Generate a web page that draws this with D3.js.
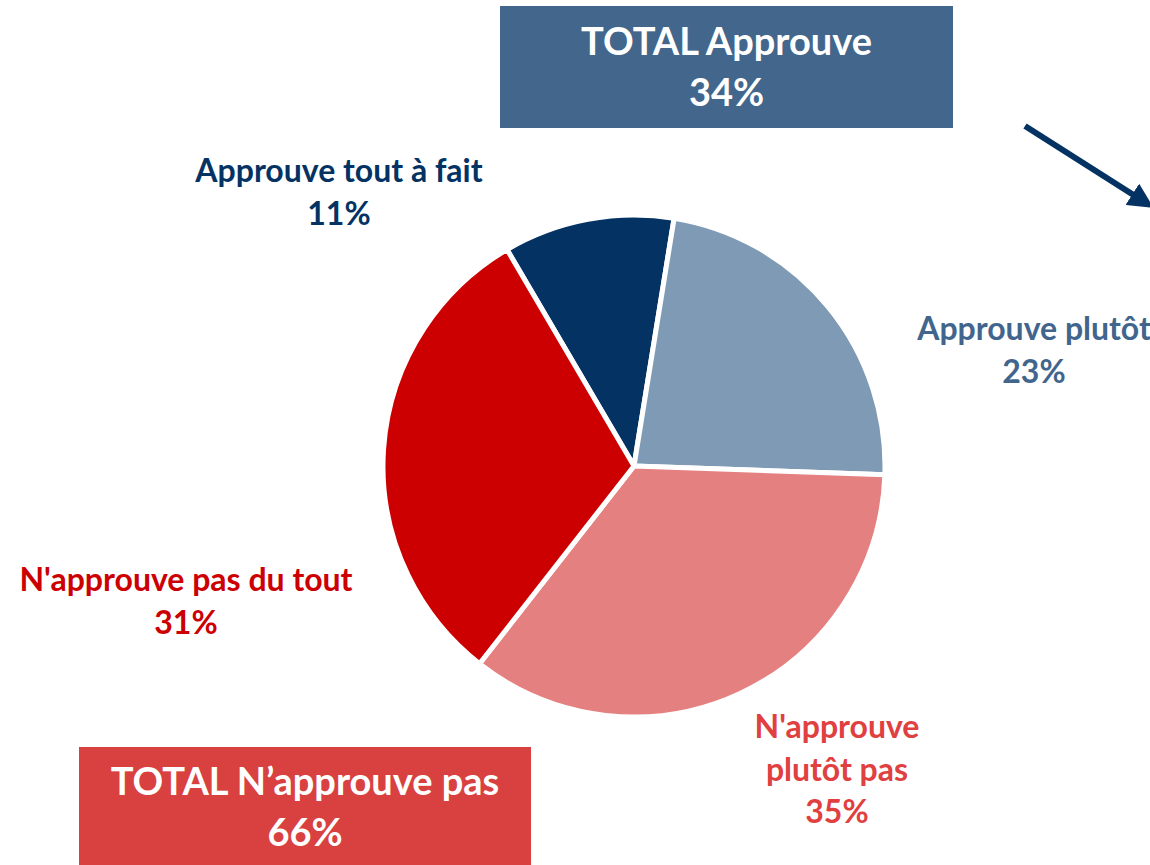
<!DOCTYPE html>
<html>
<head>
<meta charset="utf-8">
<script src="https://cdn.jsdelivr.net/npm/d3@7"></script>
<style>
  html, body { margin: 0; padding: 0; background: #fff; overflow: hidden; }
  text { font-family: Lato, "Open Sans", sans-serif; font-weight: bold; }
</style>
</head>
<body>
<svg id="chart" width="1150" height="865"></svg>
<script>
// slice order, clockwise, starting with "tout à fait"
const categories = ['Approuve tout à fait', 'Approuve plutôt', "N'approuve plutôt pas", "N'approuve pas du tout"];
const values = [11, 23, 35, 31];
const sliceColors = ['#043363', '#7f9ab4', '#e4807f', '#cc0000'];
const labelColors = ['#043363', '#41658c', '#e0403f', '#cc0000'];
const totals = [
  {label: 'TOTAL Approuve', value: 34},
  {label: 'TOTAL N\u2019approuve pas', value: 66}
];

const svg = d3.select('#chart');
const cx = 634, cy = 466, radius = 251;

const pie = d3.pie()
  .sort(null)
  .value(d => d)
  .startAngle(-30.4 * Math.PI / 180)
  .endAngle(329.6 * Math.PI / 180);

const arc = d3.arc().innerRadius(0).outerRadius(radius);

const g = svg.append('g').attr('transform', `translate(${cx},${cy})`);

g.selectAll('path')
  .data(pie(values))
  .enter()
  .append('path')
  .attr('d', arc)
  .attr('fill', (d, i) => sliceColors[i])
  .attr('stroke', '#fff')
  .attr('stroke-width', 5)
  .attr('stroke-linejoin', 'round');

/* slice labels - placed by hand like the original */
const labelPos = [
  {x: 339, y: 174, lines: ['Approuve tout à fait']},
  {x: 1034, y: 332, lines: ['Approuve plutôt']},
  {x: 837, y: 730, lines: ["N'approuve", 'plutôt pas']},
  {x: 186, y: 583, lines: ["N'approuve pas du tout"]}
];

labelPos.forEach((p, i) => {
  const t = svg.append('text')
    .attr('x', p.x)
    .attr('y', p.y)
    .attr('text-anchor', 'middle')
    .attr('dominant-baseline', 'middle')
    .attr('fill', labelColors[i])
    .attr('font-size', 32);
  const lines = p.lines.concat([values[i] + '%']);
  lines.forEach((l, j) => {
    t.append('tspan').attr('x', p.x).attr('dy', j === 0 ? 0 : 42.5).text(l);
  });
});

/* total boxes */
const boxes = [
  {x: 500, y: 6, w: 453, h: 122, fill: '#42668c'},
  {x: 79, y: 747, w: 452, h: 125, fill: '#d94040'}
];
boxes.forEach((b, i) => {
  svg.append('rect')
    .attr('x', b.x).attr('y', b.y)
    .attr('width', b.w).attr('height', b.h)
    .attr('fill', b.fill);
  const tx = b.x + b.w / 2;
  const top = i === 0 ? 45 : 785;
  svg.append('text')
    .attr('x', tx).attr('y', top)
    .attr('text-anchor', 'middle')
    .attr('dominant-baseline', 'middle')
    .attr('fill', '#fff')
    .attr('font-size', 38)
    .text(totals[i].label);
  svg.append('text')
    .attr('x', tx).attr('y', top + 51)
    .attr('text-anchor', 'middle')
    .attr('dominant-baseline', 'middle')
    .attr('fill', '#fff')
    .attr('font-size', 38)
    .text(totals[i].value + '%');
});

/* arrow going off the right edge */
svg.append('defs').append('marker')
  .attr('id', 'head')
  .attr('viewBox', '0 0 10 10')
  .attr('refX', 5).attr('refY', 5)
  .attr('markerWidth', 4.2).attr('markerHeight', 4.2)
  .attr('orient', 'auto')
  .append('path')
  .attr('d', 'M0,0 L10,5 L0,10 Z')
  .attr('fill', '#043363');

svg.append('line')
  .attr('x1', 1025).attr('y1', 126)
  .attr('x2', 1143).attr('y2', 201)
  .attr('stroke', '#043363')
  .attr('stroke-width', 6)
  .attr('marker-end', 'url(#head)');
</script>
</body>
</html>
